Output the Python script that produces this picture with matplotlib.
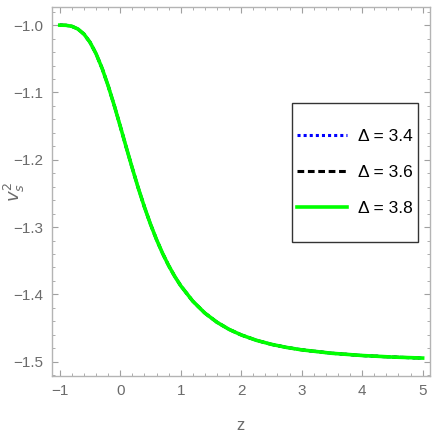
import matplotlib.pyplot as plt
from matplotlib.ticker import MultipleLocator
from matplotlib.patches import Rectangle

# values (all three curves overlap)
z = [-1.0, -0.9, -0.8, -0.7, -0.6, -0.5, -0.4, -0.3, -0.2, -0.1,
     0.0, 0.1, 0.2, 0.3, 0.4, 0.5, 0.6, 0.7, 0.8, 0.9,
     1.0, 1.2, 1.4, 1.6, 1.8, 2.0, 2.25, 2.5, 2.75, 3.0,
     3.5, 4.0, 4.5, 5.0]
vs2_34 = [-1.000, -1.0002, -1.0017, -1.0057, -1.0133, -1.0254, -1.0424, -1.0641, -1.090, -1.119,
          -1.150, -1.1817, -1.2127, -1.2425, -1.2702, -1.2956, -1.3185, -1.339, -1.3571, -1.3731,
          -1.3871, -1.4101, -1.4278, -1.4414, -1.4520, -1.4602, -1.4682, -1.4742, -1.4788, -1.4824,
          -1.4875, -1.4908, -1.4931, -1.4946]
vs2_36 = list(vs2_34)
vs2_38 = list(vs2_34)
labels = ['Δ = 3.4', 'Δ = 3.6', 'Δ = 3.8']

plt.rcParams['font.family'] = ['Liberation Sans', 'DejaVu Sans']

gray = '#6b6b6b'
fig = plt.figure(figsize=(4.36, 4.36), dpi=100)
ax = fig.add_axes([0.119, 0.138, 0.867, 0.846])

ax.plot(z, vs2_34, color='blue', ls=(0, (1, 1)), lw=2.2, label=labels[0])
ax.plot(z, vs2_36, color='black', ls=(0, (2.2, 1.2)), lw=2.2, label=labels[1])
ax.plot(z, vs2_38, color='#00ff00', ls='-', lw=2.6, label=labels[2])

ax.set_xlim(-1.13, 5.12)
ax.set_ylim(-1.521, -0.973)
ax.xaxis.set_major_locator(MultipleLocator(1))
ax.xaxis.set_minor_locator(MultipleLocator(0.2))
ax.yaxis.set_major_locator(MultipleLocator(0.1))
ax.yaxis.set_minor_locator(MultipleLocator(0.02))
ax.yaxis.set_major_formatter(plt.FuncFormatter(lambda v, p: f'{v:.1f}'.replace('-', '\u2212')))
ax.xaxis.set_major_formatter(plt.FuncFormatter(lambda v, p: f'{v:.0f}'.replace('-', '\u2212')))

for s in ax.spines.values():
    s.set_color('#b4b4b4')
    s.set_linewidth(1.0)
ax.tick_params(which='both', direction='in', top=True, right=True,
               color='#a0a0a0', labelcolor=gray, labelsize=11)
ax.tick_params(which='major', length=4, width=0.8, pad=6)
ax.tick_params(which='minor', length=2, width=0.6)

ax.set_xlabel('z', color=gray, fontsize=12, labelpad=14)
ax.set_ylabel(r'$v_s^2$', color=gray, fontsize=13)
ax.yaxis.set_label_coords(-0.065, 0.5)

# legend box drawn separately so its padding can differ from the entries
ax.add_patch(Rectangle((0.635, 0.363), 0.333, 0.377, transform=ax.transAxes,
                       facecolor='white', edgecolor='#333333', lw=1.0, zorder=4))
leg = ax.legend(loc='center', bbox_to_anchor=(0.8015, 0.5515), fontsize=12.5,
                frameon=False, handlelength=2.9, handletextpad=0.6,
                labelspacing=1.2, borderpad=0, borderaxespad=0)
leg.set_zorder(5)

fig.savefig('out.png', dpi=100)
